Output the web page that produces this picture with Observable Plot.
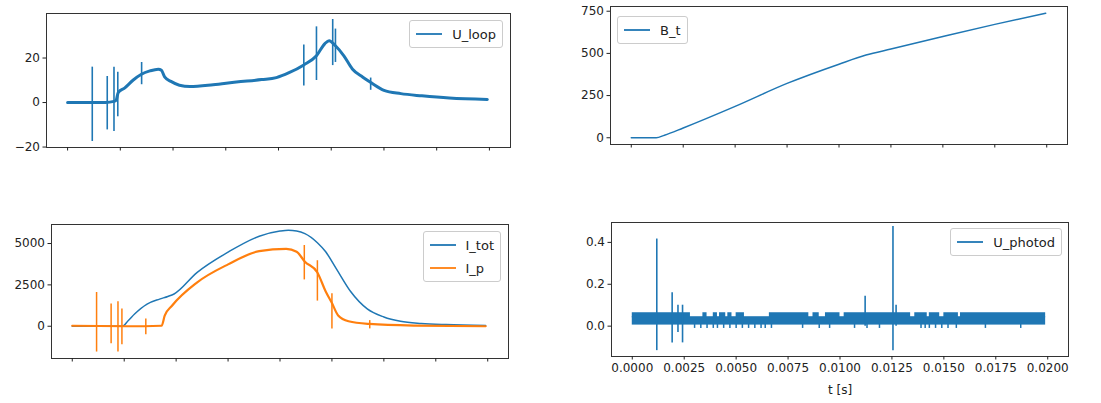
<!DOCTYPE html>
<html><head><meta charset="utf-8">
<script src="https://cdn.jsdelivr.net/npm/d3@7"></script>
<script src="https://cdn.jsdelivr.net/npm/@observablehq/plot@0.6"></script>
<style>
body{margin:0;background:#fff;}
#fig{position:relative;width:1101px;height:403px;font-family:"DejaVu Sans",sans-serif;color:#222;overflow:hidden}
.legend{position:absolute;border:1px solid #ccc;border-radius:3px;background:rgba(255,255,255,0.8);font-size:13px;padding:4px 6px;box-sizing:border-box;white-space:nowrap}
.row{display:flex;align-items:center;height:18px}
.row + .row{margin-top:5px}
.row svg{margin-right:10px}
</style></head><body><div id="fig"></div><script>
// ---------- data ----------
const X_TICKS = [0, 0.0025, 0.005, 0.0075, 0.01, 0.0125, 0.015, 0.0175, 0.02];
const X_DOMAIN = [-0.001, 0.021];

// U_loop (top-left)
const uloopT = [0, 0.0011, 0.0018, 0.0022, 0.0023, 0.0024, 0.0027, 0.0031, 0.0035, 0.0039, 0.0043, 0.00445, 0.0046, 0.0049, 0.0053, 0.0058, 0.0069, 0.0080, 0.0092, 0.0099, 0.0105, 0.0112, 0.0118, 0.0122, 0.0124, 0.0127, 0.0131, 0.0135, 0.0140, 0.0144, 0.0150, 0.0158, 0.0168, 0.0181, 0.0199];
const uloopV = [0, 0, 0, 0.5, 1, 4.5, 6.5, 10, 12.7, 14.2, 15, 14.5, 11.5, 9.5, 7.8, 7.2, 8.0, 9.2, 10.3, 11.2, 13.4, 16.9, 21, 26.5, 27.8, 25.5, 21, 15.1, 11.4, 8.9, 5.5, 4.0, 3.0, 2.0, 1.4];
const uloopSpikeT  = [0.00117, 0.00188, 0.0022, 0.00238, 0.00351, 0.0112, 0.0118, 0.01257, 0.0127, 0.01437];
const uloopSpikeLo = [-17.5, -12.3, -13, -6.4, 8, 7.4, 9.9, 16.6, 18, 5.5];
const uloopSpikeHi = [15.9, 11.7, 15.9, 13.6, 18, 25.8, 34, 37.3, 33, 11];

// B_t (top-right)
const btT = [0, 0.0012, 0.0016, 0.0025, 0.005, 0.0075, 0.01, 0.0113, 0.0125, 0.015, 0.0175, 0.01995];
const btV = [0, 0, 15, 58, 186, 322, 436, 490, 526, 600, 672, 738];

// I_tot and I_p (bottom-left)
const itotT = [0, 0.0024, 0.0027, 0.0030, 0.0036, 0.0042, 0.0046, 0.0049, 0.0060, 0.0075, 0.0090, 0.0100, 0.0104, 0.0108, 0.0112, 0.0118, 0.0122, 0.0127, 0.0134, 0.0142, 0.0150, 0.0158, 0.0168, 0.0180, 0.0199];
const itotV = [0, 0, 350, 740, 1340, 1640, 1800, 1950, 3240, 4480, 5440, 5750, 5800, 5760, 5600, 5050, 4500, 3500, 2100, 1050, 560, 300, 170, 100, 50];
const ipT = [0, 0.0026, 0.0043, 0.00445, 0.0048, 0.006, 0.0075, 0.009, 0.0103, 0.0108, 0.0112, 0.0118, 0.0122, 0.0125, 0.0128, 0.0133, 0.0143, 0.0165, 0.0199];
const ipV = [30, 0, 30, 640, 1240, 2640, 3740, 4540, 4680, 4500, 3900, 3250, 2100, 1400, 650, 300, 140, 40, 0];
const ipSpikeT  = [0.00117, 0.00187, 0.0022, 0.00239, 0.00354, 0.01117, 0.0118, 0.0125, 0.01432];
const ipSpikeLo = [-1560, -1060, -1560, -1120, -520, 2800, 1520, -160, -160];
const ipSpikeHi = [2040, 1340, 1480, 1040, 440, 4880, 3960, 1960, 340];

// U_photod (bottom-right): noise band, upper tufts, lower notches, spikes
const pdBand = [0, 0.0199, 0.005, 0.045];           // t1, t2, lo, hi
const pdTuftT1 = [0, 0.0034, 0.0039, 0.0042, 0.0046, 0.0050, 0.0066, 0.0087, 0.0093, 0.0102, 0.0136, 0.0143, 0.0150, 0.0158];
const pdTuftT2 = [0.0028, 0.0036, 0.0041, 0.0045, 0.0048, 0.0054, 0.0085, 0.0090, 0.0100, 0.0134, 0.0142, 0.0148, 0.0157, 0.0199];
const pdTuftRange = [0.04, 0.064];
const pdNotchT = [0.0030, 0.0033, 0.0036, 0.0039, 0.0041, 0.0044, 0.0047, 0.0050, 0.0053, 0.0056, 0.0059, 0.0062, 0.0064, 0.0067, 0.0082, 0.0090, 0.0095, 0.0107, 0.0113, 0.0119, 0.0139, 0.0141, 0.0143, 0.0146, 0.0149, 0.0152, 0.0156, 0.0170, 0.0187];
const pdNotchRange = [-0.011, 0.01];
const pdSpikeT  = [0.00118, 0.00192, 0.0022, 0.00242, 0.01121, 0.01255, 0.0127];
const pdSpikeLo = [-0.117, -0.08, -0.03, -0.08, 0.0, -0.117, 0.0];
const pdSpikeHi = [0.416, 0.16, 0.1, 0.1, 0.143, 0.476, 0.1];

const BLUE = "#1f77b4", ORANGE = "#ff7f0e";

// ---------- helpers ----------
const pts = (T, V) => T.map((t, i) => ({t, v: V[i]}));
const spikes = (T, Lo, Hi) => T.map((t, i) => ({t, lo: Lo[i], hi: Hi[i]}));
const fig = document.getElementById("fig");

function panel({box: [L, T, W, H], frame: [x0, y0, x1, y1], yDomain, yTicks, yFormat, xLabels, xLabel, marks}) {
  const svg = Plot.plot({
    width: W, height: H,
    marginLeft: x0 - L, marginRight: L + W - x1, marginTop: y0 - T, marginBottom: T + H - y1,
    x: {domain: X_DOMAIN},
    y: {domain: yDomain},
    style: {fontFamily: "DejaVu Sans, sans-serif", fontSize: "12px", color: "#222", background: "transparent", overflow: "visible"},
    marks: [
      ...marks,
      Plot.frame({stroke: "#333"}),
      Plot.axisY({ticks: yTicks, tickFormat: yFormat, tickSize: 3.5, tickPadding: 3, label: null}),
      Plot.axisX({ticks: X_TICKS, tickFormat: xLabels ? d3.format(".4f") : () => "", tickSize: 3.5, tickPadding: 3,
        label: xLabel ?? null, labelAnchor: "center", labelArrow: "none", labelOffset: 37})
    ]
  });
  svg.style.position = "absolute";
  svg.style.left = L + "px";
  svg.style.top = T + "px";
  fig.appendChild(svg);
}

function legend(pos, items) {
  const div = document.createElement("div");
  div.className = "legend";
  Object.entries(pos).forEach(([k, v]) => div.style[k] = v + "px");
  for (const [label, color] of items) {
    const row = document.createElement("div");
    row.className = "row";
    row.innerHTML = `<svg width="26" height="10"><line x1="0" x2="26" y1="5" y2="5" stroke="${color}" stroke-width="1.8"/></svg><span>${label}</span>`;
    div.appendChild(row);
  }
  fig.appendChild(div);
}

// ---------- panels ----------
panel({
  box: [0, 0, 550, 200], frame: [46, 13, 510, 147],
  yDomain: [-20.2, 40], yTicks: [-20, 0, 20], yFormat: d3.format("d"),
  marks: [
    Plot.ruleX(spikes(uloopSpikeT, uloopSpikeLo, uloopSpikeHi), {x: "t", y1: "lo", y2: "hi", stroke: BLUE, strokeWidth: 1.6}),
    Plot.line(pts(uloopT, uloopV), {x: "t", y: "v", stroke: BLUE, strokeWidth: 3, curve: "monotone-x"})
  ]
});

panel({
  box: [555, 0, 546, 200], frame: [610, 6, 1067, 144],
  yDomain: [-40, 778], yTicks: [0, 250, 500, 750], yFormat: d3.format("d"),
  marks: [
    Plot.line(pts(btT, btV), {x: "t", y: "v", stroke: BLUE, strokeWidth: 1.5, curve: "monotone-x"})
  ]
});

panel({
  box: [0, 200, 550, 203], frame: [51, 224, 508, 358],
  yDomain: [-1950, 6150], yTicks: [0, 2500, 5000], yFormat: d3.format("d"),
  marks: [
    Plot.line(pts(itotT, itotV), {x: "t", y: "v", stroke: BLUE, strokeWidth: 1.5, curve: "monotone-x"}),
    Plot.ruleX(spikes(ipSpikeT, ipSpikeLo, ipSpikeHi), {x: "t", y1: "lo", y2: "hi", stroke: ORANGE, strokeWidth: 1.5}),
    Plot.line(pts(ipT, ipV), {x: "t", y: "v", stroke: ORANGE, strokeWidth: 2.2, curve: "monotone-x"})
  ]
});

panel({
  box: [555, 200, 546, 203], frame: [611, 222, 1068, 356],
  yDomain: [-0.145, 0.495], yTicks: [0, 0.2, 0.4], yFormat: d3.format(".1f"),
  xLabels: true, xLabel: "t [s]",
  marks: [
    Plot.rect([pdBand], {x1: d => d[0], x2: d => d[1], y1: d => d[2], y2: d => d[3], fill: BLUE}),
    Plot.rect(pdTuftT1.map((t, i) => ({t1: t, t2: pdTuftT2[i]})), {x1: "t1", x2: "t2", y1: pdTuftRange[0], y2: pdTuftRange[1], fill: BLUE}),
    Plot.ruleX(pdNotchT, {x: d => d, y1: pdNotchRange[0], y2: pdNotchRange[1], stroke: BLUE, strokeWidth: 1.5}),
    Plot.ruleX(spikes(pdSpikeT, pdSpikeLo, pdSpikeHi), {x: "t", y1: "lo", y2: "hi", stroke: BLUE, strokeWidth: 1.6})
  ]
});

// ---------- legends ----------
legend({right: 598, top: 20}, [["U_loop", BLUE]]);
legend({left: 617, top: 16}, [["B_t", BLUE]]);
legend({right: 600, top: 231}, [["I_tot", BLUE], ["I_p", ORANGE]]);
legend({right: 39, top: 228}, [["U_photod", BLUE]]);
</script></body></html>
